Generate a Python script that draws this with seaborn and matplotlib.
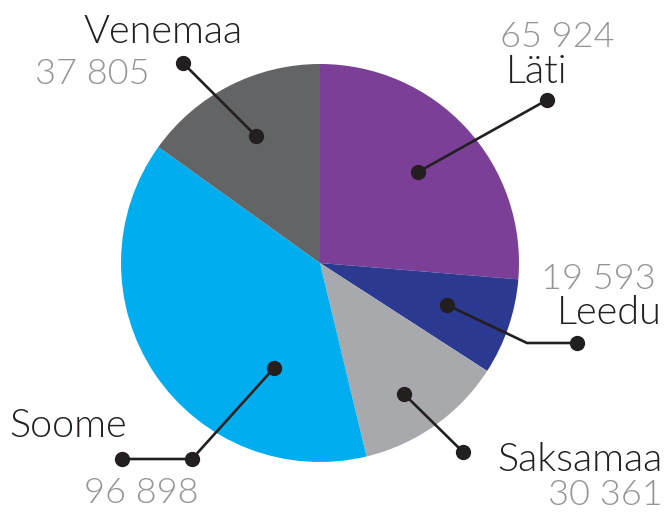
import matplotlib
matplotlib.use("Agg")
import matplotlib.pyplot as plt
import seaborn as sns

# data
countries = ["Läti", "Leedu", "Saksamaa", "Soome", "Venemaa"]
values = [65924, 19593, 30361, 96898, 37805]
value_labels = ["65 924", "19 593", "30 361", "96 898", "37 805"]
colors = ["#7B3F98", "#2B3990", "#A7A9AC", "#00AEEF", "#636466"]

W, H = 669, 513
sns.set_theme(style="white")
plt.rcParams["font.family"] = ["Lato", "DejaVu Sans"]

fig = plt.figure(figsize=(W / 100, H / 100), dpi=100)
ax = fig.add_axes([0, 0, 1, 1])

def Y(py):
    return H - py

ax.pie(values, colors=sns.color_palette(colors), startangle=90, counterclock=False,
       center=(320, Y(263)), radius=199, wedgeprops=dict(linewidth=0))

# leader lines (pixel layout, top-left origin)
leaders = {
    "Läti": [(418, 172), (547, 100)],
    "Leedu": [(447, 305), (527, 343), (577, 343)],
    "Saksamaa": [(404, 394), (463, 452)],
    "Soome": [(274, 368), (192, 459), (122, 459)],
    "Venemaa": [(256, 136), (183, 63)],
}
dots = {
    "Läti": [0, 1], "Leedu": [0, 2], "Saksamaa": [0, 1], "Soome": [0, 1, 2], "Venemaa": [0, 1],
}
for name, pts in leaders.items():
    xs = [p[0] for p in pts]
    ys = [Y(p[1]) for p in pts]
    ax.plot(xs, ys, color="#231F20", lw=1.9, solid_capstyle="round", zorder=3)
    ax.plot([xs[i] for i in dots[name]], [ys[i] for i in dots[name]], "o",
            color="#231F20", ms=10, zorder=4)

# label layout: (name x, name baseline, ha), (value x, value baseline, ha)
layout = {
    "Läti": ((506, 83, "left"), (615, 47, "right")),
    "Leedu": ((662, 324, "right"), (656, 289, "right")),
    "Saksamaa": ((663, 471, "right"), (663, 505, "right")),
    "Soome": ((9, 437, "left"), (84, 503, "left")),
    "Venemaa": ((83, 43, "left"), (35, 84, "left")),
}
for name, vlab in zip(countries, value_labels):
    (nx, ny, nha), (vx, vy, vha) = layout[name]
    ax.text(nx, Y(ny), name, ha=nha, va="baseline", fontsize=28.5,
            color="#231F20", fontweight=300)
    ax.text(vx, Y(vy), vlab, ha=vha, va="baseline", fontsize=26,
            color="#939598", fontweight=300)

ax.set_xlim(0, W)
ax.set_ylim(0, H)
ax.set_aspect("equal")
ax.axis("off")
fig.savefig("out.png", dpi=100)
